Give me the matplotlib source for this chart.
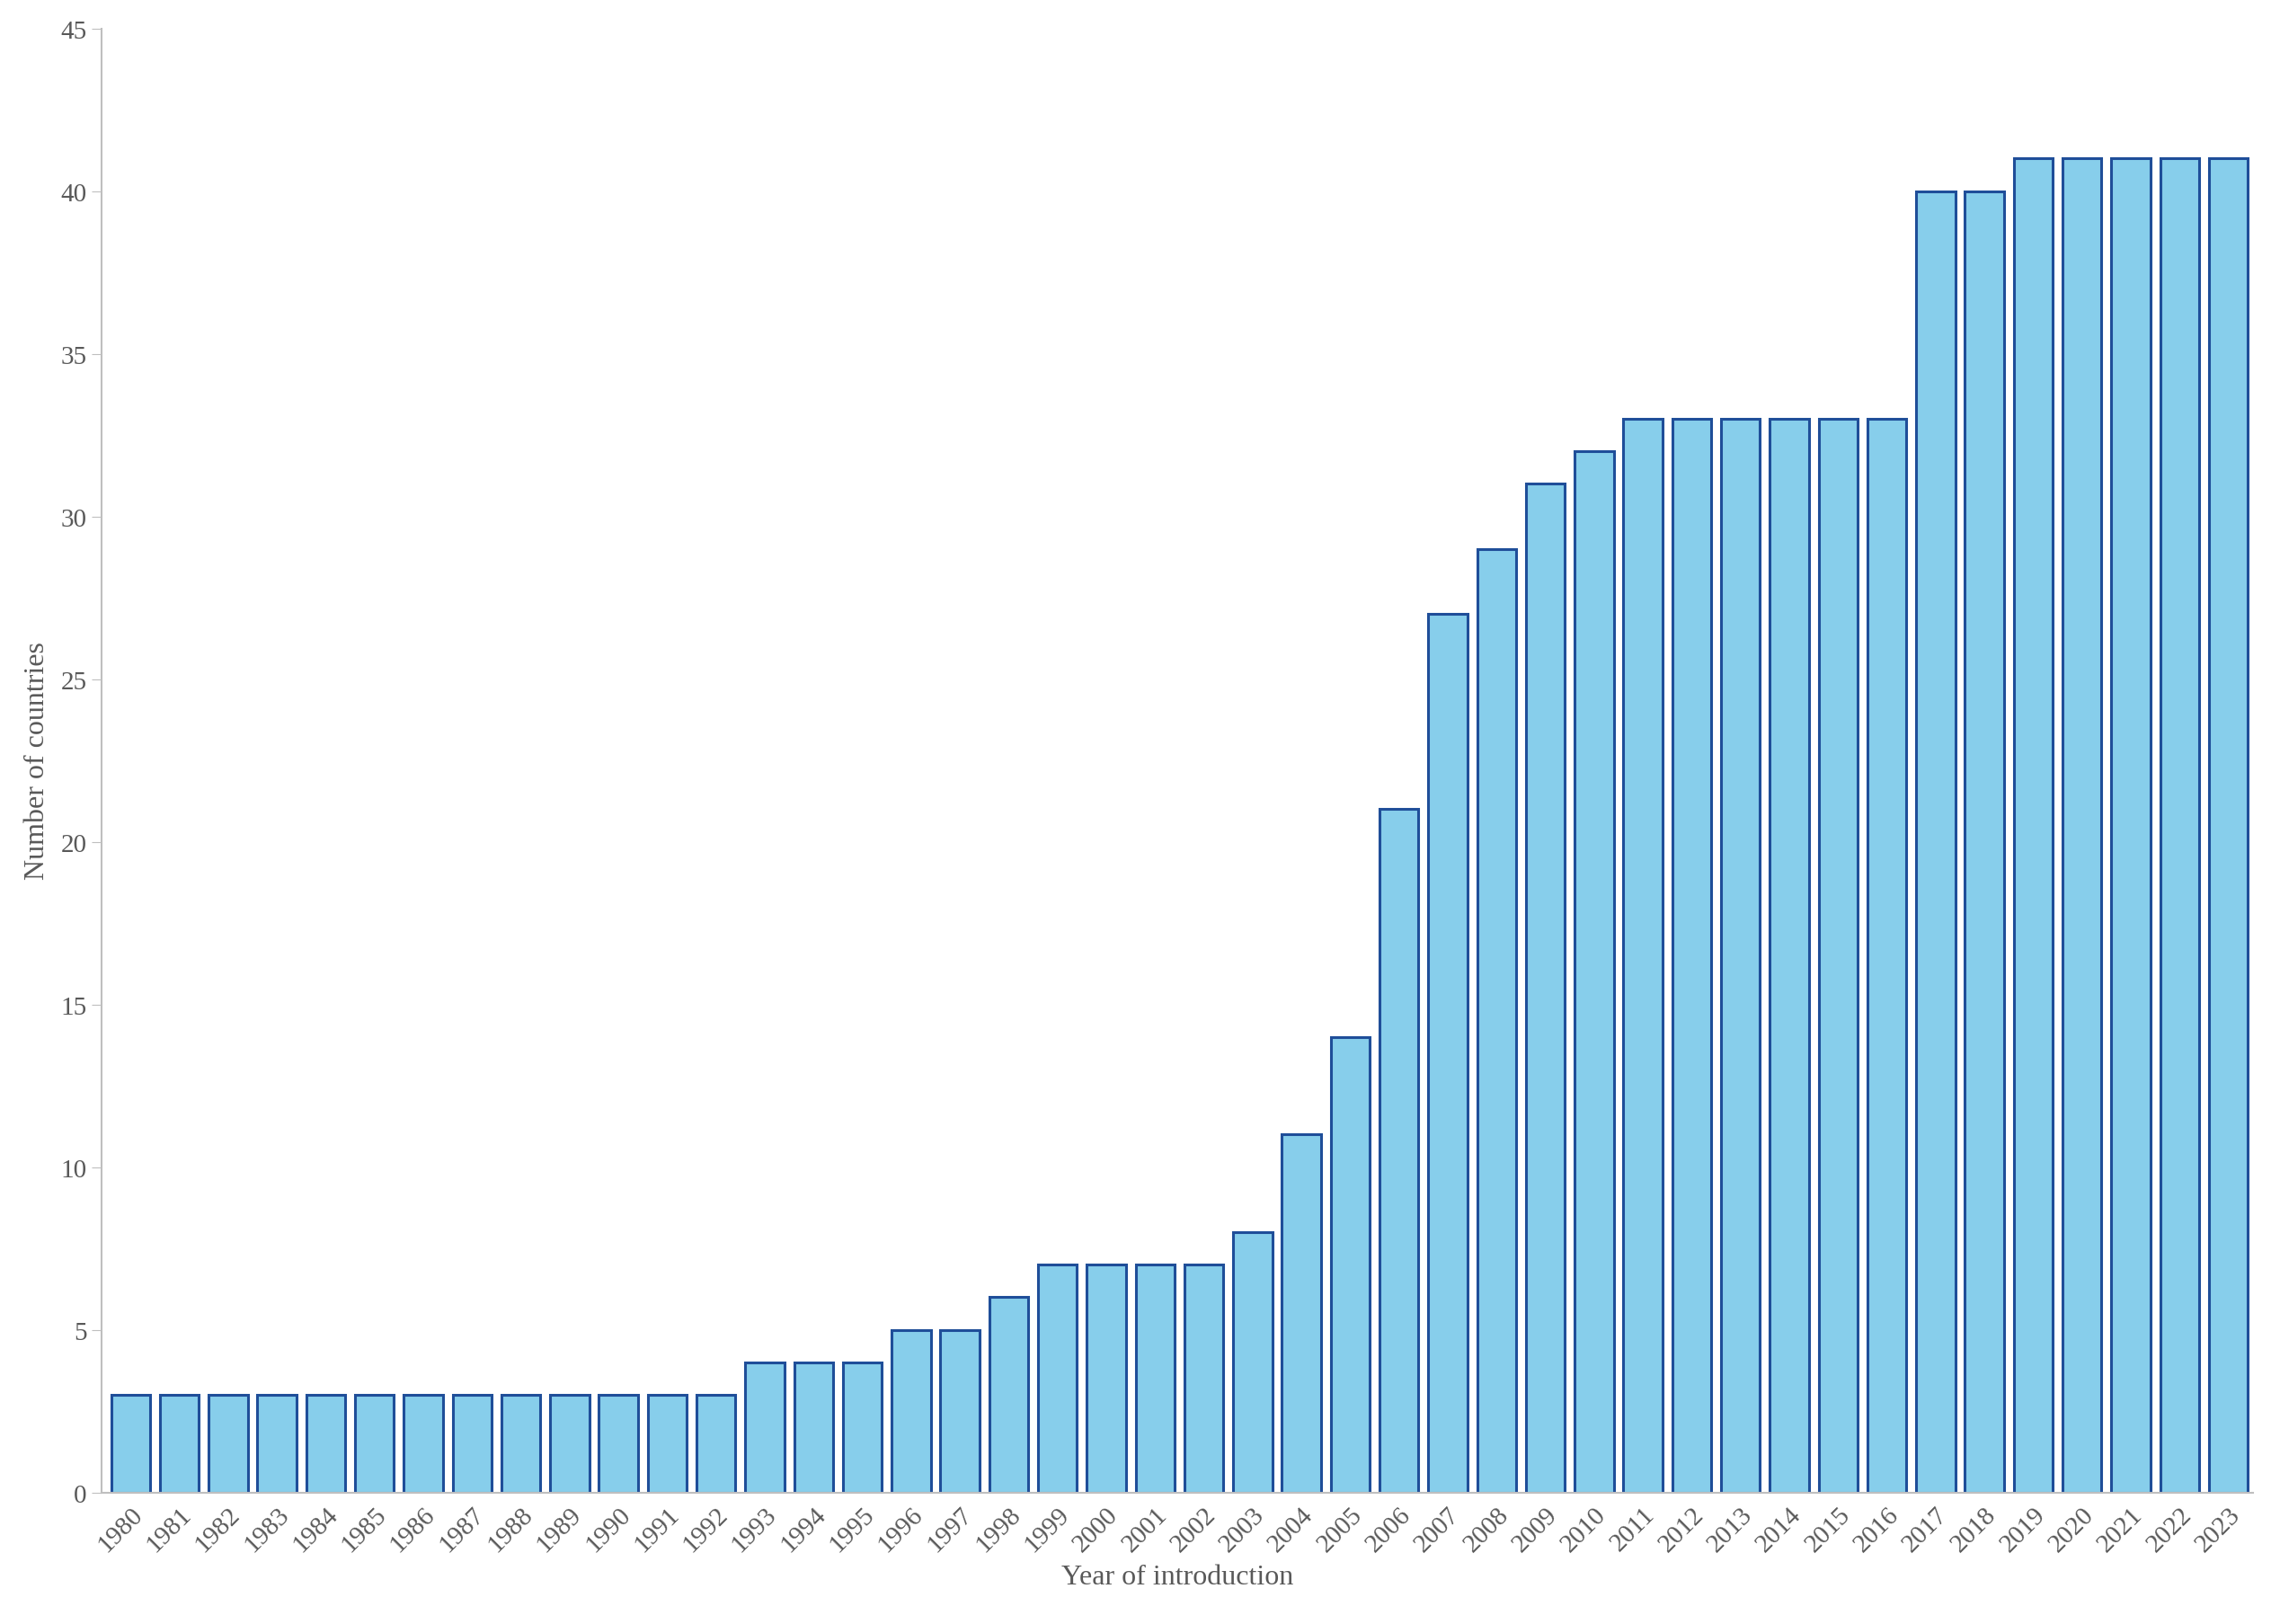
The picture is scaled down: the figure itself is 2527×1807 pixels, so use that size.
import matplotlib
matplotlib.use('Agg')
import matplotlib.pyplot as plt
import numpy as np

years = [str(y) for y in range(1980, 2024)]
counts = [3, 3, 3, 3, 3, 3, 3, 3, 3, 3, 3, 3, 3,
          4, 4, 4, 5, 5, 6, 7, 7, 7, 7, 8, 11, 14, 21, 27, 29, 31, 32,
          33, 33, 33, 33, 33, 33, 40, 40, 41, 41, 41, 41, 41]

plt.rcParams['font.family'] = ['Liberation Serif', 'DejaVu Serif']
GRAY = '#595959'

fig = plt.figure(figsize=(25.27, 18.08), dpi=100)
ax = fig.add_axes([0.0446, 0.081, 0.9474, 0.901])

x = np.arange(len(years))
ax.bar(x, counts, width=0.8, color='#87CEEB', edgecolor='#1F4E99', linewidth=2.2)

ax.set_xlim(-0.6, len(years) - 0.5)
ax.set_ylim(0, 45)
ax.set_yticks(range(0, 46, 5))
ax.set_xticks(x)
ax.set_xticklabels(years, rotation=45, ha='right', rotation_mode='anchor')
ax.tick_params(colors=GRAY, labelsize=21, length=8, color='#BFBFBF')
ax.tick_params(axis='x', length=0, pad=8)

for s in ['top', 'right']:
    ax.spines[s].set_visible(False)
for s in ['left', 'bottom']:
    ax.spines[s].set_color('#BFBFBF')
    ax.spines[s].set_linewidth(1.5)

ax.set_xlabel('Year of introduction', fontsize=23, color=GRAY, labelpad=6)
ax.set_ylabel('Number of countries', fontsize=23, color=GRAY, labelpad=8)

fig.savefig('out.png', dpi=100)
